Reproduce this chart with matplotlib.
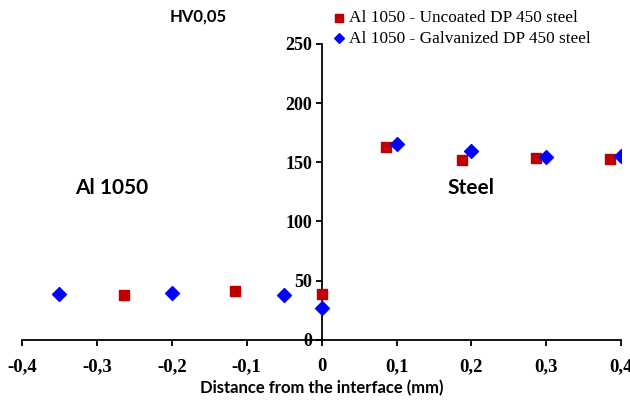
import matplotlib
matplotlib.use("Agg")
import matplotlib.pyplot as plt

# data
uncoated_x = [-0.264, -0.115, 0.0, 0.086, 0.187, 0.286, 0.385]
uncoated_hv = [38.0, 41.5, 39.0, 162.5, 151.5, 154.0, 152.5]
galv_x = [-0.35, -0.2, -0.05, 0.0, 0.1, 0.2, 0.3, 0.4]
galv_hv = [39.0, 39.5, 37.5, 27.0, 165.0, 159.5, 154.5, 155.0]

xticks = [-0.4, -0.3, -0.2, -0.1, 0.0, 0.1, 0.2, 0.3, 0.4]
xtick_labels = ['-0,4', '-0,3', '-0,2', '-0,1', '0', '0,1', '0,2', '0,3', '0,4']
yticks = [0, 50, 100, 150, 200, 250]

red = '#C00000'
blue = '#0000FF'
serif = 'Liberation Serif'
sans = 'Lato'

fig = plt.figure(figsize=(6.3, 4.03), dpi=100)
ax = fig.add_axes([0.035, 0.157, 0.951, 0.734])

ax.scatter(uncoated_x, uncoated_hv, marker='s', s=52, color=red, zorder=3,
           label='Al 1050 - Uncoated DP 450 steel')
ax.scatter(galv_x, galv_hv, marker='D', s=50, color=blue, zorder=3,
           label='Al 1050 - Galvanized DP 450 steel')

ax.set_xlim(-0.4, 0.4)
ax.set_ylim(0, 250)
ax.spines['left'].set_position(('data', 0))
ax.spines['top'].set_visible(False)
ax.spines['right'].set_visible(False)
for sp in ('left', 'bottom'):
    ax.spines[sp].set_linewidth(1.3)

ax.set_xticks(xticks)
ax.set_xticklabels(xtick_labels, fontfamily=serif, fontweight='bold', fontsize=13.5)
ax.set_yticks(yticks)
ax.set_yticklabels([str(v) for v in yticks], fontfamily=serif, fontweight='bold',
                   fontsize=13)
ax.tick_params(direction='out', length=4, width=1.3, pad=3)
ax.tick_params(axis='x', pad=9)

ax.set_xlabel('Distance from the interface (mm)', fontfamily=sans,
              fontweight='bold', fontsize=12)
ax.xaxis.set_label_coords(0.5, -0.135)

fig.text(170 / 630, 1 - 17 / 403, 'HV0,05', fontfamily=sans, fontweight='bold',
         fontsize=12, ha='left', va='center')
ax.text(-0.28, 128, 'Al 1050', fontfamily=sans, fontweight='bold', fontsize=15,
        ha='center', va='center')
ax.text(0.2, 128, 'Steel', fontfamily=sans, fontweight='bold', fontsize=15,
        ha='center', va='center')

leg = fig.legend(loc='upper left', bbox_to_anchor=(318 / 630, 1.0),
                 frameon=False, prop={'family': serif, 'size': 12.4},
                 handletextpad=0.0, borderaxespad=0.2, labelspacing=0.25,
                 handlelength=1.2, markerscale=0.7)

fig.savefig('out.png', dpi=100)
